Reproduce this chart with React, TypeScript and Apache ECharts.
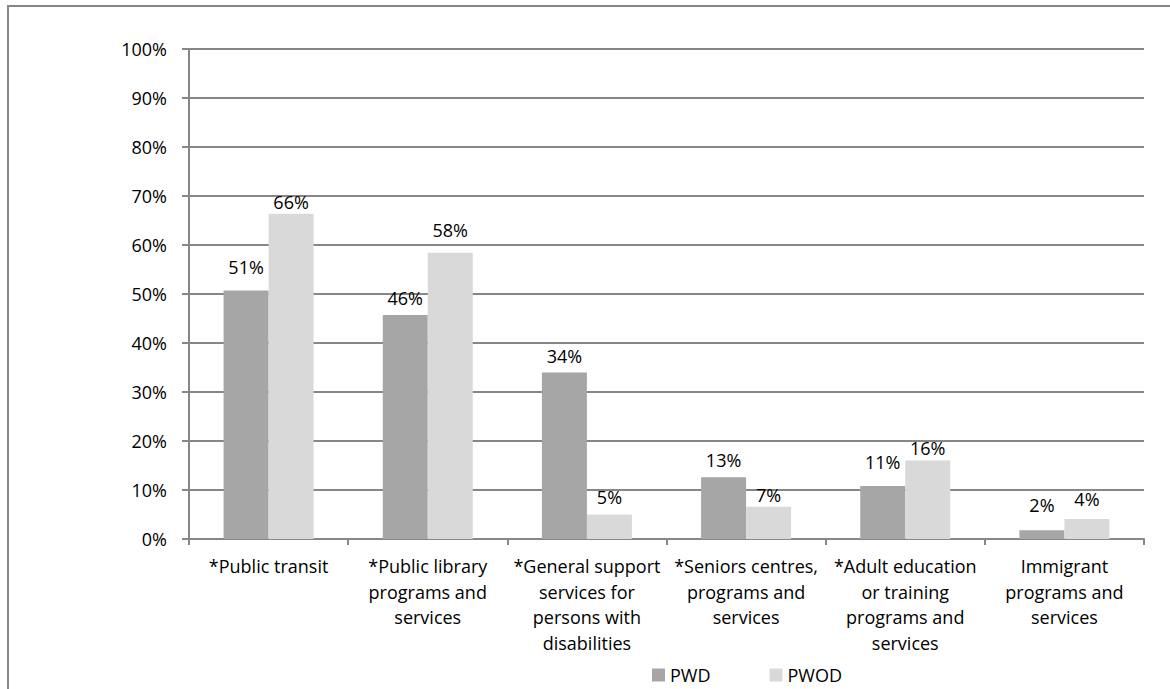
import React, { useEffect, useRef } from "react";
import * as echarts from "echarts";

const categories = [
  "*Public transit",
  "*Public library\nprograms and\nservices",
  "*General support\nservices for\npersons with\ndisabilities",
  "*Seniors centres,\nprograms and\nservices",
  "*Adult education\nor training\nprograms and\nservices",
  "Immigrant\nprograms and\nservices",
];
const seriesNames = ["PWD", "PWOD"];
const pwd = [50.7, 45.7, 34.0, 12.6, 10.8, 1.8];
const pwod = [66.4, 58.4, 5.0, 6.6, 16.0, 4.1];
const pwdLabelGap = [15, 8, 7, 8, 15, 16];
const pwodLabelGap = [3, 14, 9, 3, 4, 11];

const FONT = "'Open Sans', sans-serif";
const GRAY = "#878787";

export default function App() {
  const ref = useRef<HTMLDivElement>(null);
  useEffect(() => {
    if (!ref.current) return;
    const chart = echarts.init(ref.current, null, { renderer: "svg" });
    const mkData = (vals: number[], gaps: number[]) =>
      vals.map((v, i) => ({ value: v, label: { distance: gaps[i] } }));
    const label = {
      show: true,
      position: "top",
      fontFamily: FONT,
      fontSize: 18,
      lineHeight: 18,
      color: "#000",
      formatter: (p: any) => Math.round(p.value) + "%",
    };
    chart.setOption({
      animation: false,
      backgroundColor: "#fff",
      textStyle: { fontFamily: FONT },
      graphic: [
        {
          type: "rect",
          shape: { x: 8, y: 6, width: 1300, height: 900 },
          style: { fill: "none", stroke: GRAY, lineWidth: 2 },
          z: 100,
        },
      ],
      grid: { left: 189, right: 26, top: 49, bottom: 150 },
      legend: {
        data: seriesNames,
        left: 652,
        top: 666,
        padding: 0,
        itemWidth: 13,
        itemHeight: 13,
        itemGap: 59,
        icon: "rect",
        textStyle: { fontFamily: FONT, fontSize: 18, lineHeight: 18, color: "#000" },
      },
      xAxis: {
        type: "category",
        data: categories,
        axisLine: { lineStyle: { color: GRAY, width: 2 } },
        axisTick: { show: true, length: 6, lineStyle: { color: GRAY, width: 2 } },
        axisLabel: {
          interval: 0,
          margin: 14,
          fontFamily: FONT,
          fontSize: 18,
          lineHeight: 25.7,
          color: "#000",
          align: "center",
        },
      },
      yAxis: {
        type: "value",
        min: 0,
        max: 100,
        interval: 10,
        axisLine: { show: true, lineStyle: { color: GRAY, width: 2 } },
        axisTick: { show: true, length: 7, lineStyle: { color: GRAY, width: 2 } },
        axisLabel: {
          formatter: "{value}%",
          margin: 22,
          fontFamily: FONT,
          fontSize: 18,
          color: "#000",
        },
        splitLine: { show: true, lineStyle: { color: GRAY, width: 2 } },
      },
      series: [
        {
          name: seriesNames[0],
          type: "bar",
          data: mkData(pwd, pwdLabelGap),
          barWidth: 45,
          barGap: "0%",
          itemStyle: { color: "#a6a6a6" },
          label,
        },
        {
          name: seriesNames[1],
          type: "bar",
          data: mkData(pwod, pwodLabelGap),
          barWidth: 45,
          barGap: "0%",
          itemStyle: { color: "#d9d9d9" },
          label,
        },
      ],
    });
    return () => chart.dispose();
  }, []);
  return (
    <div
      ref={ref}
      style={{ position: "fixed", left: 0, top: 0, width: 1170, height: 689 }}
    />
  );
}
